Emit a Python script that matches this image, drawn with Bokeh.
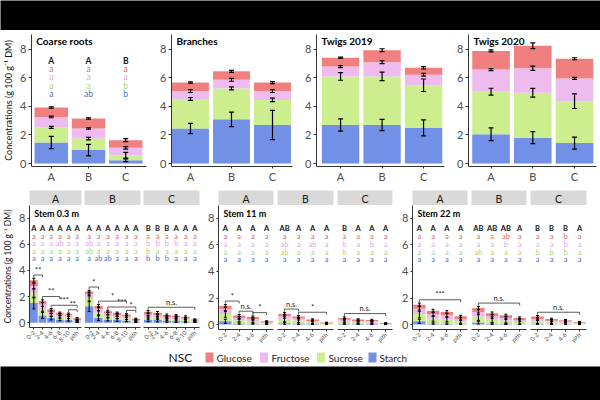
import math
from bokeh.plotting import figure
from bokeh.models import ColumnDataSource, FixedTicker, Range1d, Whisker, TeeHead, Label
from bokeh.layouts import row, column
from bokeh.embed import file_html
from bokeh.resources import INLINE
from bokeh.core.properties import value

# ---------------- data (g 100 g-1 DM) ----------------
SUGARS = ["Starch", "Sucrose", "Fructose", "Glucose"]          # stacked bottom -> top
LEGEND_ORDER = ["Glucose", "Fructose", "Sucrose", "Starch"]
TREES = ["A", "B", "C"]
DEPTHS_LOW = ["0-2", "2-4", "4-6", "6-8", "8-10", "pith"]
DEPTHS_HIGH = ["0-2", "2-4", "4-6", "pith"]

# whole organs: mean per tree and standard error
ROOTS_STARCH = [1.47, 0.94, 0.23]
ROOTS_SUCROSE = [1.06, 0.81, 0.35]
ROOTS_FRUCTOSE = [0.74, 0.71, 0.52]
ROOTS_GLUCOSE = [0.66, 0.70, 0.54]
ROOTS_SE = [[0.43, 0.40, 0.10], [0.07, 0.09, 0.20], [0.06, 0.05, 0.09], [0.05, 0.05, 0.10]]
ROOTS_LETTERS = ["A A B", "a a a", "a a a", "a a b", "a ab b"]

BRANCH_STARCH = [2.46, 3.10, 2.70]
BRANCH_SUCROSE = [2.07, 2.17, 1.76]
BRANCH_FRUCTOSE = [0.55, 0.60, 0.62]
BRANCH_GLUCOSE = [0.60, 0.60, 0.60]
BRANCH_SE = [[0.36, 0.51, 1.03], [0.10, 0.10, 0.12], [0.10, 0.10, 0.10], [0.05, 0.07, 0.07]]

TW19_STARCH = [2.70, 2.70, 2.50]
TW19_SUCROSE = [3.41, 3.41, 2.99]
TW19_FRUCTOSE = [0.69, 1.00, 0.74]
TW19_GLUCOSE = [0.62, 0.84, 0.48]
TW19_SE = [[0.43, 0.40, 0.56], [0.27, 0.30, 0.44], [0.07, 0.10, 0.10], [0.04, 0.10, 0.08]]

TW20_STARCH = [2.05, 1.81, 1.43]
TW20_SUCROSE = [2.99, 3.15, 2.94]
TW20_FRUCTOSE = [1.55, 1.72, 1.60]
TW20_GLUCOSE = [1.31, 1.58, 1.38]
TW20_SE = [[0.45, 0.42, 0.42], [0.24, 0.31, 0.51], [0.07, 0.15, 0.07], [0.07, 0.20, 0.07]]

# stem cores by radial depth (cm) -- stem height 0.3 m
S03A_STARCH = [1.50, 0.55, 0.35, 0.25, 0.22, 0.04]
S03A_SUCROSE = [0.75, 0.50, 0.25, 0.20, 0.18, 0.08]
S03A_FRUCTOSE = [0.55, 0.35, 0.20, 0.15, 0.15, 0.08]
S03A_GLUCOSE = [0.45, 0.25, 0.20, 0.15, 0.13, 0.13]
S03A_SE = [[0.45, 0.22, 0.14, 0.10, 0.10, 0.03], [0.35, 0.18, 0.12, 0.10, 0.09, 0.05],
           [0.22, 0.14, 0.10, 0.08, 0.07, 0.05], [0.15, 0.10, 0.08, 0.06, 0.06, 0.05]]
S03A_LETTERS = ["A A A A A A", "a a a a a a", "a a a ab a a", "a a a a a a", "a a a a a a"]
S03A_BRACKETS = [(1, 2, "**"), (2, 4, "**"), (3, 6, "***"), (5, 6, "**")]

S03B_STARCH = [1.25, 0.35, 0.25, 0.20, 0.15, 0.03]
S03B_SUCROSE = [0.63, 0.40, 0.25, 0.20, 0.18, 0.07]
S03B_FRUCTOSE = [0.32, 0.30, 0.20, 0.18, 0.15, 0.08]
S03B_GLUCOSE = [0.18, 0.25, 0.18, 0.17, 0.15, 0.12]
S03B_SE = [[0.40, 0.18, 0.12, 0.10, 0.08, 0.02], [0.25, 0.15, 0.10, 0.08, 0.08, 0.04],
           [0.15, 0.12, 0.08, 0.07, 0.06, 0.04], [0.10, 0.10, 0.07, 0.06, 0.06, 0.04]]
S03B_LETTERS = ["A A A A A A", "a a a a a a", "ab a a a a a", "ab a a a a a", "a ab ab a a a"]
S03B_BRACKETS = [(1, 2, "*"), (2, 5, "*"), (3, 6, "***"), (5, 6, "*")]

S03C_STARCH = [0.22, 0.20, 0.15, 0.14, 0.10, 0.03]
S03C_SUCROSE = [0.20, 0.18, 0.13, 0.13, 0.10, 0.06]
S03C_FRUCTOSE = [0.20, 0.18, 0.15, 0.14, 0.12, 0.07]
S03C_GLUCOSE = [0.21, 0.19, 0.15, 0.14, 0.13, 0.09]
S03C_SE = [[0.15, 0.14, 0.12, 0.12, 0.10, 0.02], [0.15, 0.13, 0.12, 0.12, 0.10, 0.04],
           [0.12, 0.12, 0.10, 0.10, 0.08, 0.04], [0.10, 0.10, 0.08, 0.08, 0.07, 0.04]]
S03C_LETTERS = ["B B B A A A", "a a a a a a", "b b b b a a", "b a a a a a", "b b b a a a"]
S03C_BRACKETS = [(1, 6, "n.s.")]

# stem height 11 m
S11A_STARCH = [0.25, 0.08, 0.07, 0.02]
S11A_SUCROSE = [0.55, 0.25, 0.20, 0.07]
S11A_FRUCTOSE = [0.35, 0.17, 0.15, 0.07]
S11A_GLUCOSE = [0.27, 0.18, 0.16, 0.09]
S11A_SE = [[0.15, 0.05, 0.04, 0.01], [0.25, 0.12, 0.10, 0.04], [0.15, 0.10, 0.08, 0.04], [0.10, 0.08, 0.07, 0.04]]
S11A_LETTERS = ["A A A A", "a a a a", "a a a a", "a a a a", "a a a a"]
S11A_BRACKETS = [(1, 2, "*"), (2, 3, "n.s."), (3, 4, "*")]

S11B_STARCH = [0.10, 0.08, 0.04, 0.01]
S11B_SUCROSE = [0.30, 0.22, 0.13, 0.04]
S11B_FRUCTOSE = [0.22, 0.15, 0.10, 0.04]
S11B_GLUCOSE = [0.20, 0.15, 0.11, 0.06]
S11B_SE = [[0.08, 0.06, 0.03, 0.01], [0.20, 0.15, 0.08, 0.03], [0.15, 0.10, 0.06, 0.03], [0.10, 0.08, 0.05, 0.03]]
S11B_LETTERS = ["AB A A A", "a a a a", "ab a ab a", "ab a a a", "a a a a"]
S11B_BRACKETS = [(1, 2, "n.s."), (2, 4, "*")]

S11C_STARCH = [0.07, 0.05, 0.05, 0.01]
S11C_SUCROSE = [0.16, 0.12, 0.11, 0.03]
S11C_FRUCTOSE = [0.13, 0.10, 0.09, 0.03]
S11C_GLUCOSE = [0.14, 0.11, 0.10, 0.05]
S11C_SE = [[0.05, 0.04, 0.04, 0.01], [0.12, 0.08, 0.08, 0.02], [0.10, 0.07, 0.06, 0.02], [0.08, 0.06, 0.05, 0.03]]
S11C_LETTERS = ["B A A A", "a a a a", "b a b a", "b a a a", "a a a a"]
S11C_BRACKETS = [(1, 4, "n.s.")]

# stem height 22 m
S22A_STARCH = [0.25, 0.08, 0.07, 0.03]
S22A_SUCROSE = [0.55, 0.37, 0.33, 0.20]
S22A_FRUCTOSE = [0.40, 0.33, 0.30, 0.20]
S22A_GLUCOSE = [0.30, 0.27, 0.25, 0.19]
S22A_SE = [[0.15, 0.05, 0.05, 0.02], [0.30, 0.20, 0.18, 0.12], [0.20, 0.15, 0.15, 0.10], [0.12, 0.10, 0.10, 0.08]]
S22A_LETTERS = ["A A A A", "a a a a", "a a a a", "a a a a", "a a a a"]
S22A_BRACKETS = [(1, 4, "***")]

S22B_STARCH = [0.15, 0.07, 0.05, 0.02]
S22B_SUCROSE = [0.45, 0.30, 0.25, 0.17]
S22B_FRUCTOSE = [0.35, 0.25, 0.20, 0.15]
S22B_GLUCOSE = [0.30, 0.23, 0.20, 0.16]
S22B_SE = [[0.10, 0.05, 0.04, 0.01], [0.28, 0.22, 0.18, 0.15], [0.20, 0.15, 0.12, 0.12], [0.12, 0.10, 0.08, 0.08]]
S22B_LETTERS = ["AB AB AB A", "a a ab a", "a a b a", "ab a a a", "a a a a"]
S22B_BRACKETS = [(1, 4, "n.s.")]

S22C_STARCH = [0.05, 0.03, 0.02, 0.01]
S22C_SUCROSE = [0.20, 0.14, 0.11, 0.06]
S22C_FRUCTOSE = [0.17, 0.12, 0.10, 0.06]
S22C_GLUCOSE = [0.18, 0.13, 0.10, 0.07]
S22C_SE = [[0.03, 0.02, 0.02, 0.01], [0.15, 0.10, 0.08, 0.05], [0.12, 0.08, 0.06, 0.04], [0.08, 0.06, 0.05, 0.04]]
S22C_LETTERS = ["B B B A", "a a b a", "a a b a", "b b b a", "a a a a"]
S22C_BRACKETS = [(1, 4, "n.s.")]

# ---------------- styling ----------------
FONT = "Lato"
FILL = {"Glucose": "#F08080", "Fructose": "#EEBBEE", "Sucrose": "#CCEE8E", "Starch": "#7190E6"}
INK = {"Total": "#111111", "Glucose": "#E06666", "Fructose": "#E3A3E3",
       "Sucrose": "#A6D66A", "Starch": "#4A72CC"}
LETTER_ROWS = ["Total", "Glucose", "Fructose", "Sucrose", "Starch"]
LETTER_Y = [7.2, 6.62, 6.04, 5.46, 4.88]
Y_TITLE = "Concentrations (g 100 g\u207b\u00b9 DM)"


def base_fig(width, height, left, right, top, bottom, xr, yr):
    p = figure(width=width, height=height, x_range=Range1d(*xr), y_range=Range1d(*yr),
               output_backend="svg", toolbar_location=None,
               min_border_left=left, min_border_right=right,
               min_border_top=top, min_border_bottom=bottom)
    p.grid.visible = False
    p.outline_line_color = None
    for ax in p.axis:
        ax.axis_line_color = "#333333"
        ax.major_tick_line_color = "#333333"
        ax.major_tick_in = 0
        ax.major_tick_out = 3
        ax.minor_tick_line_color = None
        ax.major_label_text_color = "#4D4D4D"
        ax.major_label_text_font = FONT
        ax.major_label_standoff = 2
        ax.axis_label_text_font = FONT
        ax.axis_label_text_font_style = "normal"
        ax.axis_label_text_font_size = "9px"
        ax.axis_label_text_color = "#111111"
        ax.axis_label_standoff = 3
    p.yaxis.ticker = FixedTicker(ticks=[0, 2, 4, 6, 8])
    p.yaxis.major_label_text_font_size = "11px"
    return p


def draw_stack(p, series, errors, bar_width, head, lw):
    xs = [i + 1 for i in range(len(series[0]))]
    data = {"x": xs}
    for name, vals in zip(SUGARS, series):
        data[name] = vals
    p.vbar_stack(SUGARS, x="x", width=bar_width, color=[FILL[s] for s in SUGARS],
                 line_color=None, source=ColumnDataSource(data))
    cum = [0.0] * len(xs)
    reach = [0.0] * len(xs)
    for vals, errs in zip(series, errors):
        cum = [c + v for c, v in zip(cum, vals)]
        up = [c + e for c, e in zip(cum, errs)]
        lo = [c - e for c, e in zip(cum, errs)]
        reach = [max(r, u) for r, u in zip(reach, up)]
        src = ColumnDataSource({"x": xs, "upper": up, "lower": lo})
        p.add_layout(Whisker(base="x", upper="upper", lower="lower", source=src, level="overlay",
                             line_color="black", line_width=lw,
                             upper_head=TeeHead(size=head, line_color="black", line_width=lw),
                             lower_head=TeeHead(size=head, line_color="black", line_width=lw)))
    return xs, reach


def draw_letters(p, xs, rows, size):
    for key, y, txt in zip(LETTER_ROWS, LETTER_Y, rows):
        labels = txt.split()
        p.text(x=xs, y=[y] * len(xs), text=labels, text_align="center", text_baseline="middle",
               text_font=value(FONT), text_font_size=size, text_color=INK[key],
               text_font_style="bold" if key == "Total" else "normal")


def draw_title(p, text, frame_w, y, size):
    r = p.x_range
    x = r.start + 5 * (r.end - r.start) / frame_w
    p.add_layout(Label(x=x, y=y, text=text, text_align="left", text_baseline="middle",
                       text_font=FONT, text_font_size=size, text_font_style="bold",
                       text_color="black"))


def draw_brackets(p, brackets, reach):
    for a, b, lab in brackets:
        h = max(reach[a - 1:b]) + 0.25
        p.segment(x0=[a, a, b], y0=[h, h, h], x1=[b, a, b], y1=[h, h - 0.18, h - 0.18],
                  line_color="#333333", line_width=0.8)
        p.text(x=[(a + b) / 2], y=[h + 0.02], text=[lab], text_align="center", text_baseline="bottom",
               text_font=value(FONT), text_font_size="7.5px", text_color="#222222")


# ---------------- top row: whole organs ----------------
TOP_Y = (-0.21, 9.05)
top_specs = [
    ("Coarse roots", [ROOTS_STARCH, ROOTS_SUCROSE, ROOTS_FRUCTOSE, ROOTS_GLUCOSE], ROOTS_SE, ROOTS_LETTERS,
     150, 27, 4, (0.468, 3.558)),
    ("Branches", [BRANCH_STARCH, BRANCH_SUCROSE, BRANCH_FRUCTOSE, BRANCH_GLUCOSE], BRANCH_SE, None,
     146, 21, 4, (0.537, 3.488)),
    ("Twigs 2019", [TW19_STARCH, TW19_SUCROSE, TW19_FRUCTOSE, TW19_GLUCOSE], TW19_SE, None,
     152, 20, 4, (0.42, 3.504)),
    ("Twigs 2020", [TW20_STARCH, TW20_SUCROSE, TW20_FRUCTOSE, TW20_GLUCOSE], TW20_SE, None,
     152, 20, 4, (0.46, 3.526)),
]

top_figs = []
for i, (title, series, se, letters, w, left, right, xr) in enumerate(top_specs):
    p = base_fig(w, 158, left, right, 4, 22, xr, TOP_Y)
    xs, reach = draw_stack(p, series, se, 0.9, 5, 1.2)
    p.xaxis.ticker = FixedTicker(ticks=xs)
    p.xaxis.major_label_overrides = {x: t for x, t in zip(xs, TREES)}
    p.xaxis.major_label_text_font_size = "11px"
    p.xaxis.major_tick_out = 2
    p.xaxis.major_label_standoff = 1
    if letters:
        draw_letters(p, xs, letters, "8.5px")
    draw_title(p, title, w - left - right, 8.62, "10px")
    if i == 0:
        p.yaxis.axis_label = Y_TITLE
    top_figs.append(p)

# ---------------- bottom row: stem radial profiles ----------------
BOT_Y = (-0.37, 8.97)
stem_facets = [
    ("Stem 0.3 m", DEPTHS_LOW, [
        ([S03A_STARCH, S03A_SUCROSE, S03A_FRUCTOSE, S03A_GLUCOSE], S03A_SE, S03A_LETTERS, S03A_BRACKETS, 83, 25, 2),
        ([S03B_STARCH, S03B_SUCROSE, S03B_FRUCTOSE, S03B_GLUCOSE], S03B_SE, S03B_LETTERS, S03B_BRACKETS, 59, 1, 2),
        ([S03C_STARCH, S03C_SUCROSE, S03C_FRUCTOSE, S03C_GLUCOSE], S03C_SE, S03C_LETTERS, S03C_BRACKETS, 61, 1, 4),
    ]),
    ("Stem 11 m", DEPTHS_HIGH, [
        ([S11A_STARCH, S11A_SUCROSE, S11A_FRUCTOSE, S11A_GLUCOSE], S11A_SE, S11A_LETTERS, S11A_BRACKETS, 72, 15, 2),
        ([S11B_STARCH, S11B_SUCROSE, S11B_FRUCTOSE, S11B_GLUCOSE], S11B_SE, S11B_LETTERS, S11B_BRACKETS, 60, 2, 2),
        ([S11C_STARCH, S11C_SUCROSE, S11C_FRUCTOSE, S11C_GLUCOSE], S11C_SE, S11C_LETTERS, S11C_BRACKETS, 60, 2, 3),
    ]),
    ("Stem 22 m", DEPTHS_HIGH, [
        ([S22A_STARCH, S22A_SUCROSE, S22A_FRUCTOSE, S22A_GLUCOSE], S22A_SE, S22A_LETTERS, S22A_BRACKETS, 74, 17, 2),
        ([S22B_STARCH, S22B_SUCROSE, S22B_FRUCTOSE, S22B_GLUCOSE], S22B_SE, S22B_LETTERS, S22B_BRACKETS, 59, 2, 2),
        ([S22C_STARCH, S22C_SUCROSE, S22C_FRUCTOSE, S22C_GLUCOSE], S22C_SE, S22C_LETTERS, S22C_BRACKETS, 72, 2, 14),
    ]),
]

bottom_cols = []
for f, (title, depths, subpanels) in enumerate(stem_facets):
    n = len(depths)
    for j, (series, se, letters, brackets, w, left, right) in enumerate(subpanels):
        # grey strip with the tree name
        strip = figure(width=w, height=17, x_range=Range1d(0, 1), y_range=Range1d(0, 1),
                       x_axis_type=None, y_axis_type=None, output_backend="svg", toolbar_location=None,
                       min_border_left=left, min_border_right=right, min_border_top=2, min_border_bottom=0)
        strip.background_fill_color = "#D9D9D9"
        strip.outline_line_color = None
        strip.grid.visible = False
        strip.text(x=[0.5], y=[0.45], text=[TREES[j]], text_align="center", text_baseline="middle",
                   text_font=value(FONT), text_font_size="10.5px", text_color="#1A1A1A")

        p = base_fig(w, 143, left, right, 0, 18, (0.5, n + 0.5), BOT_Y)
        xs, reach = draw_stack(p, series, se, 0.9, 3, 1.0)
        p.xaxis.ticker = FixedTicker(ticks=xs)
        p.xaxis.major_label_overrides = {x: t for x, t in zip(xs, depths)}
        p.xaxis.major_label_text_font_size = "6px"
        p.xaxis.major_label_orientation = math.pi / 4
        p.xaxis.major_tick_out = 2
        draw_letters(p, xs, letters, "7.5px")
        draw_brackets(p, brackets, reach)
        if j == 0:
            draw_title(p, title, w - left - right, 8.37, "9px")
            p.yaxis.major_tick_out = 2
            if f == 0:
                p.yaxis.axis_label = Y_TITLE
                p.yaxis.axis_label_text_font_size = "8.5px"
        else:
            p.yaxis.visible = False
        bottom_cols.append(column(strip, p))

# ---------------- legend ----------------
leg = figure(width=600, height=18, x_range=Range1d(0, 600), y_range=Range1d(0, 18),
             x_axis_type=None, y_axis_type=None, output_backend="svg", toolbar_location=None,
             min_border=0)
leg.outline_line_color = None
leg.grid.visible = False
leg.text(x=[168], y=[9], text=["NSC"], text_align="left", text_baseline="middle",
         text_font=value(FONT), text_font_size="12px", text_color="#111111")
leg.rect(x=[209, 263.5, 320.5, 372], y=[9] * 4, width=8, height=10,
         fill_color=[FILL[s] for s in LEGEND_ORDER], line_color=None)
leg.text(x=[216, 271, 328, 379], y=[9] * 4, text=LEGEND_ORDER, text_align="left", text_baseline="middle",
         text_font=value(FONT), text_font_size="10px", text_color="#222222")


def band(h):
    b = figure(width=600, height=h, x_range=Range1d(0, 1), y_range=Range1d(0, 1),
               x_axis_type=None, y_axis_type=None, output_backend="svg", toolbar_location=None,
               min_border=0)
    b.background_fill_color = "black"
    b.border_fill_color = "black"
    b.outline_line_color = None
    b.grid.visible = False
    return b


page = column(band(30), row(*top_figs), row(*bottom_cols), leg, band(34))
open("out.html", "w").write(file_html(page, INLINE))
